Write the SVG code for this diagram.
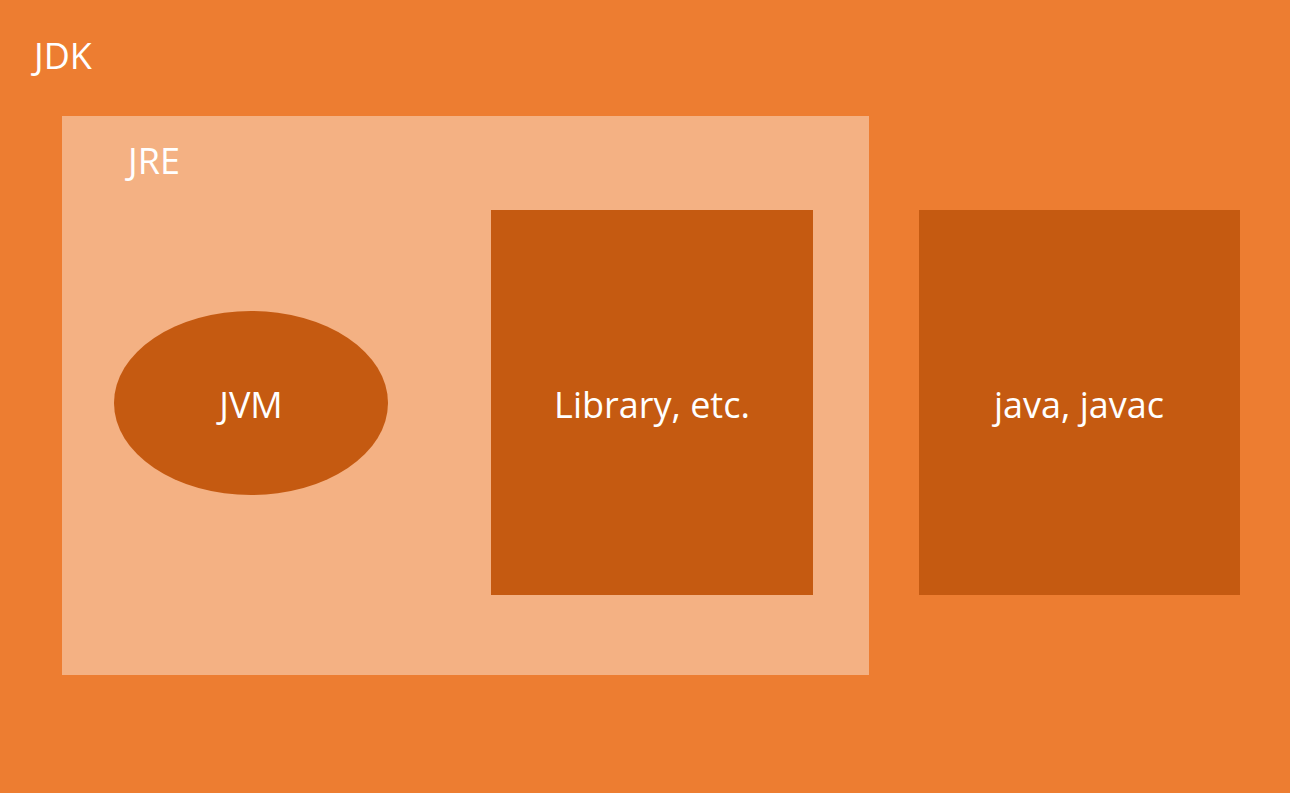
<svg xmlns="http://www.w3.org/2000/svg" width="1290" height="793" viewBox="0 0 1290 793">
<style>
text{font-family:"Open Sans","Noto Sans","DejaVu Sans",sans-serif;fill:#fff;font-size:36px}
.c{text-anchor:middle}
.d{fill:#C55A11}
</style>
<rect id="jdk-bg" x="0" y="0" width="1290" height="793" fill="#ED7D31"/>
<g id="jdk"><text x="34" y="69">JDK</text></g>
<g id="jre">
<rect x="62" y="116" width="807" height="559" fill="#F4B183"/>
<text x="128" y="174">JRE</text>
</g>
<g id="jvm">
<ellipse class="d" cx="251" cy="403" rx="137" ry="92"/>
<text class="c" x="251" y="418">JVM</text>
</g>
<g id="library">
<rect class="d" x="491" y="210" width="322" height="385"/>
<text class="c" x="652" y="418">Library, etc.</text>
</g>
<g id="tools">
<rect class="d" x="919" y="210" width="321" height="385"/>
<text class="c" x="1079" y="418">java, javac</text>
</g>
<g id="connectors"/>
</svg>
